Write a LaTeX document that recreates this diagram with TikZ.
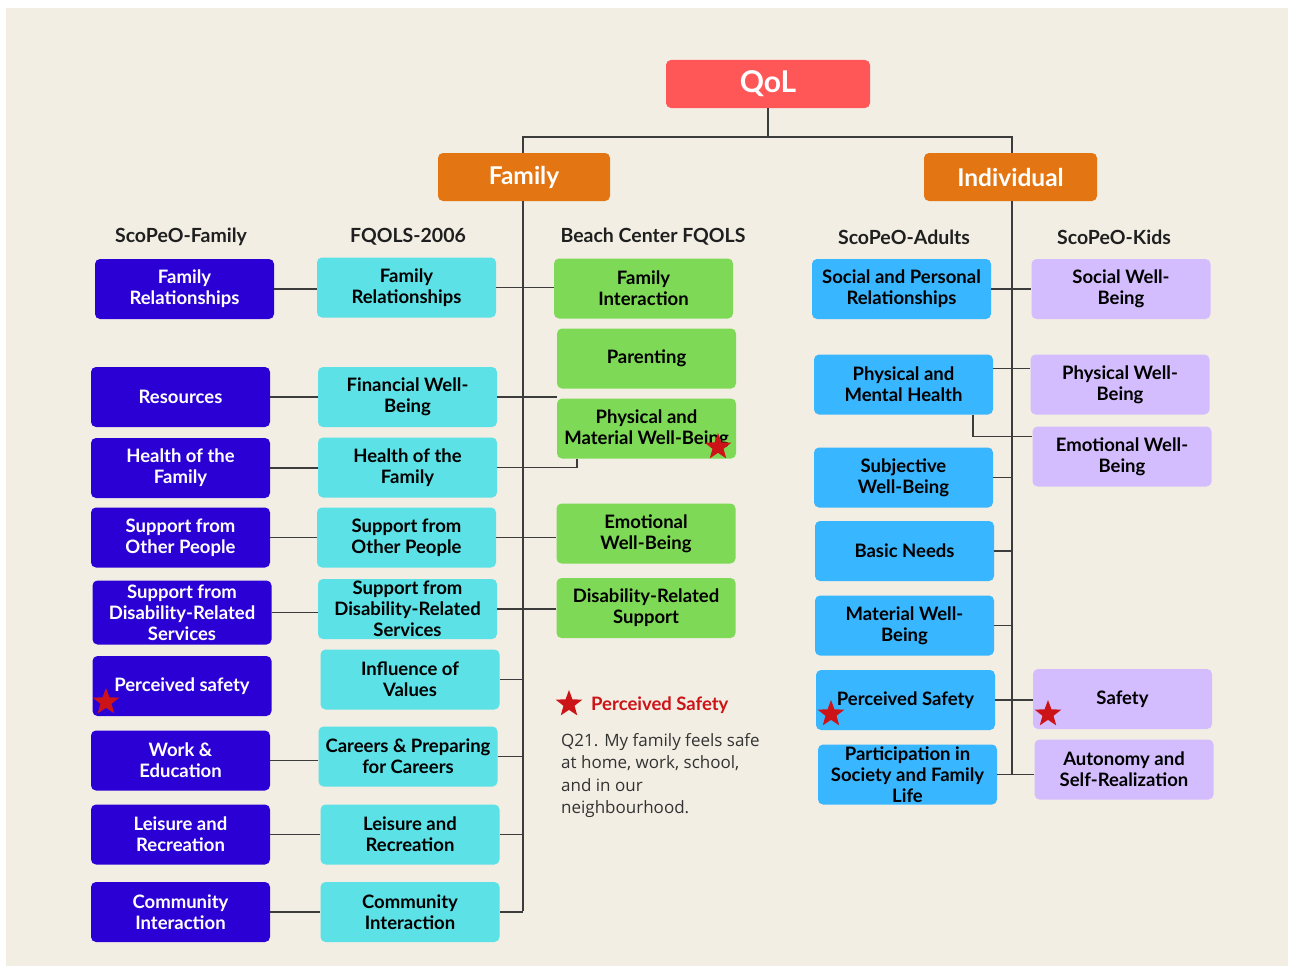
\documentclass[tikz,border=0pt]{standalone}
\usepackage{fontspec}
\setmainfont{Lato}
\newfontfamily\bodyfont{Open Sans}
\usetikzlibrary{shapes.geometric}

\definecolor{paper}{HTML}{F2EEE3}
\definecolor{qolred}{HTML}{FF5757}
\definecolor{branch}{HTML}{E37513}
\definecolor{navy}{HTML}{2B00D5}
\definecolor{aqua}{HTML}{5CE1E6}
\definecolor{leaf}{HTML}{7ED957}
\definecolor{sky}{HTML}{38B6FF}
\definecolor{lilac}{HTML}{D4BDFE}
\definecolor{starred}{HTML}{CC1418}
\definecolor{wire}{HTML}{3C3C3C}

\tikzset{
  box/.style={rounded corners=5pt, minimum width=179pt, minimum height=60pt, inner sep=0pt, align=center,
    font=\fontsize{18.5}{21}\selectfont\bfseries},
  famA/.style={box, fill=navy, text=white},
  famB/.style={box, fill=aqua},
  famC/.style={box, fill=leaf},
  indA/.style={box, fill=sky},
  indB/.style={box, fill=lilac},
  topbox/.style={rounded corners=5pt, inner sep=0pt, text=white, font=\fontsize{24.5}{28}\selectfont\bfseries},
  colhead/.style={font=\fontsize{19.5}{22}\selectfont\bfseries, text=black!88, inner sep=0pt},
  redstar/.style={star, star points=5, star point ratio=2.4, fill=starred, minimum size=28pt, inner sep=0pt},
  wired/.style={draw=wire, line width=1.3pt}
}

\begin{document}
\begin{tikzpicture}[x=1pt,y=-1pt]
\useasboundingbox (0,0) rectangle (1290,966);
\fill[white] (0,0) rectangle (1290,966);
\fill[paper] (6,8) rectangle (1288,966);

% Top
\node[topbox, fill=qolred, minimum width=204pt, minimum height=48pt, font=\fontsize{30}{34}\selectfont\bfseries] (qol) at (768,84) {QoL};
\node[topbox, fill=branch, minimum width=172pt, minimum height=48pt] (fam) at (524,177) {Family};
\node[topbox, fill=branch, minimum width=173pt, minimum height=48pt] (ind) at (1010.5,177) {Individual};
\coordinate (split) at (768,137);
\coordinate (fj) at (523,911);
\coordinate (ij) at (1012,774);

% Column headings
\node[colhead] (h1) at (181,237) {ScoPeO-Family};
\node[colhead] (h2) at (408,237) {FQOLS-2006};
\node[colhead] (h3) at (653,237) {Beach Center FQOLS};
\node[colhead] (h4) at (904,237) {ScoPeO-Adults};
\node[colhead] (h5) at (1114,237) {ScoPeO-Kids};

% ScoPeO-Family
\node[famA] (fa1) at (184.5,289) {Family\\Relationships};
\node[famA] (fa2) at (180.5,397) {Resources};
\node[famA] (fa3) at (180.5,468) {Health of the\\Family};
\node[famA] (fa4) at (180.5,537.5) {Support from\\Other People};
\node[famA, minimum height=64pt] (fa5) at (182,612.5) {Support from\\Disability-Related\\Services};
\node[famA] (fa6) at (182,686) {Perceived safety};
\node[famA] (fa7) at (180.5,760.5) {Work \&\\Education};
\node[famA] (fa8) at (180.5,834.5) {Leisure and\\Recreation};
\node[famA] (fa9) at (180.5,912) {Community\\Interaction};

% FQOLS-2006
\node[famB] (fq1) at (406.5,287.5) {Family\\Relationships};
\node[famB] (fq2) at (407.5,397) {Financial Well-\\Being};
\node[famB] (fq3) at (407.5,467.5) {Health of the\\Family};
\node[famB] (fq4) at (406.5,537.5) {Support from\\Other People};
\node[famB] (fq5) at (407.5,609) {Support from\\Disability-Related\\Services};
\node[famB] (fq6) at (410,679.5) {Influence of\\Values};
\node[famB] (fq7) at (408,756.5) {Careers \& Preparing\\for Careers};
\node[famB] (fq8) at (410,834.5) {Leisure and\\Recreation};
\node[famB] (fq9) at (410,912) {Community\\Interaction};

% Beach Center FQOLS
\node[famC] (bc1) at (643.5,288.5) {Family\\Interaction};
\node[famC] (bc2) at (646.5,358.5) {Parenting};
\node[famC] (bc3) at (646.5,428.5) {Physical and\\Material Well-Being};
\node[famC] (bc4) at (646,533.5) {Emotional\\Well-Being};
\node[famC] (bc5) at (646,608) {Disability-Related\\Support};

% ScoPeO-Adults
\node[indA] (ad1) at (901.5,289) {Social and Personal\\Relationships};
\node[indA] (ad2) at (903.5,384.5) {Physical and\\Mental Health};
\node[indA] (ad3) at (903.5,477.5) {Subjective\\Well-Being};
\node[indA] (ad4) at (904.5,551) {Basic Needs};
\node[indA] (ad5) at (904.5,625.5) {Material Well-\\Being};
\node[indA] (ad6) at (905.5,700) {Perceived Safety};
\node[indA] (ad7) at (907.5,774.5) {Participation in\\Society and Family\\Life};

% ScoPeO-Kids
\node[indB] (kd1) at (1121,289) {Social Well-\\Being};
\node[indB] (kd2) at (1120,384.5) {Physical Well-\\Being};
\node[indB] (kd3) at (1122,456.5) {Emotional Well-\\Being};
\node[indB] (kd4) at (1122.5,699) {Safety};
\node[indB] (kd5) at (1124,769.5) {Autonomy and\\Self-Realization};

% Connectors
\draw[wired] (qol) -- (split);
\draw[wired] (fj |- fam.north) |- (split) -| (ij |- ind.north);
\draw[wired] (fj |- fam.south) -- (fj);
\draw[wired] (ij |- ind.south) -- (ij);
\foreach \i in {1,2,3,4,5,7,8,9}
  \draw[wired] (fa\i.east) -- (fa\i.east -| fq\i.west);
\draw[wired] (fq1.east) -- (fq1.east -| bc1.west);
\draw[wired] (fq2.east) -- (fq2.east -| bc3.west);
\draw[wired] (fq3.east) -| ([xshift=-69.5pt]bc3.south);
\draw[wired] (fq4.east) -- (fq4.east -| bc4.west);
\draw[wired] (fq5.east) -- (fq5.east -| bc5.west);
\foreach \i in {6,7,8,9}
  \draw[wired] (fq\i.east) -- (fq\i.east -| fj);
\draw[wired] (ad1.east) -- (ad1.east -| kd1.west);
\draw[wired] ([yshift=16pt]ad2.east) -- ([yshift=16pt]ad2.east -| kd2.west);
\draw[wired] ([xshift=69.5pt]ad2.south) |- ([yshift=20pt]kd3.west);
\foreach \i in {3,4,5}
  \draw[wired] (ad\i.east) -- (ad\i.east -| ij);
\draw[wired] (ad6.east) -- (ad6.east -| kd4.west);
\draw[wired] (ad7.east) -- (ad7.east -| kd5.west);

% Stars
\node[redstar] (st1) at (106,702) {};
\node[redstar] (st2) at (718,447) {};
\node[redstar] (st3) at (831,714) {};
\node[redstar] (st4) at (1048,714) {};

% Legend
\node[redstar] (lgstar) at (569,704) {};
\node[anchor=west, inner sep=0pt, text=starred, font=\fontsize{18.5}{22}\selectfont\bfseries] (lgtitle) at (591,705) {Perceived Safety};
\node[anchor=north west, inner sep=0pt, text=black!80, align=left, font=\bodyfont\fontsize{17}{22.5}\selectfont] (lgtext) at (561,733) {Q21. My family feels safe\\at home, work, school,\\and in our\\neighbourhood.};
\end{tikzpicture}
\end{document}
